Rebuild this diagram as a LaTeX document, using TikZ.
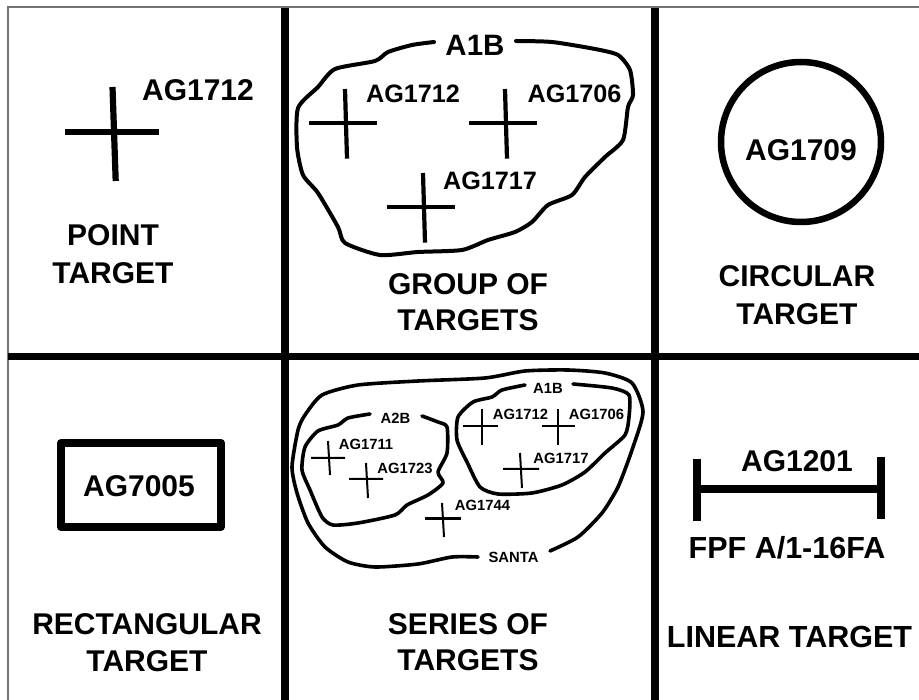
\documentclass[tikz,border=0pt]{standalone}
\usepackage{fontspec}
\setmainfont{Liberation Sans}
\newcommand{\fs}[1]{\fontsize{#1}{#1}\selectfont\bfseries}
\tikzset{
 lab/.style={inner sep=0pt,outer sep=0pt,align=center,font=\fs{30}},
 mid/.style={inner sep=0pt,outer sep=0pt,align=center,font=\fs{25.2}},
 tiny/.style={inner sep=0pt,outer sep=0pt,align=center,font=\fs{14.8}},
 grid/.style={line width=7.8pt},
 frame/.style={line width=1.5pt,black!55},
 blob/.style={line width=4pt,line cap=round,line join=round},
 sblob/.style={line width=3.6pt,line cap=round,line join=round},
 heavy/.style={line width=6.2pt},
 cross/.style={line width=4.2pt},
 thincross/.style={line width=2pt},
}
\begin{document}
\begin{tikzpicture}[x=1pt,y=-1pt]
\useasboundingbox (0,0) rectangle (919,700);
\fill[white] (0,0) rectangle (919,700);
\draw[frame] (8,700) -- (8,7) -- (919,7);
% grid
\draw[grid] (285,8) -- (285,700);
\draw[grid] (655,8) -- (655,700);
\draw[grid] (8,356.5) -- (919,356.5);
% point target
\draw[heavy] (65,132) -- (159,132);
\draw[heavy] (112.5,87) -- (115.7,181);
\node[lab] (p1) at (198,90.5) {AG1712};
\node[lab] (p2) at (113,254.5) {POINT\\[8pt]TARGET};
% group
\draw[blob] plot[smooth,tension=0.4] coordinates {(434,42)(412,45)(388,52)(375,61)(335,69)(318,87)(298,108)(297,147)(303,175)(318,193)(338,227)(345,243)(380,255)(418,252)(462,250)(488,240)(515,232)(532,222)(548,205)(572,195)(585,177)(605,157)(623,140)(628,107)(633,95)(630,70)(618,55)(595,49)(552,42)(516,41)};
\node[lab,font=\fs{29.5}] (g0) at (475,45) {A1B};
\foreach \x/\y in {0/0,160/0,78/84}{
 \draw[cross] (309+\x,122.8+\y) -- (377+\x,122.8+\y);
 \draw[cross] (345+\x,89+\y) -- (347+\x,158.7+\y);
}
\node[mid] (g1) at (413,94) {AG1712};
\node[mid] (g2) at (574.5,94) {AG1706};
\node[mid] (g3) at (490,180.5) {AG1717};
\node[lab] (g4) at (468,302) {GROUP OF\\[6pt]TARGETS};
% circular
\draw[line width=6.5pt] (801,142) circle (80);
\node[lab] (c1) at (801,150) {AG1709};
\node[lab] (c2) at (797,295.5) {CIRCULAR\\[8pt]TARGET};
% rect
\draw[line width=7.8pt,line join=round] (61,443) rectangle (221,527);
\node[lab] (r1) at (139,486.5) {AG7005};
\node[lab] (r2) at (147,642.5) {RECTANGULAR\\[7pt]TARGET};
% series
\draw[sblob] plot[smooth,tension=0.4] coordinates {(478,557)(452,557)(418,564)(375,567)(348,562)(325,547)(308,523)(297,493)(292,467)(298,430)(305,415)(322,395)(358,385)(418,381)(485,378)(525,371)(568,370)(605,373)(632,383)(643,412)(632,450)(618,487)(602,513)(578,537)(550,551)};
\draw[sblob] plot[smooth,tension=0.4] coordinates {(370,414)(348,418)(338,425)(318,431)(305,447)(302,470)(310,490)(322,517)(333,525)(358,523)(395,515)(407,505)(428,495)(443,483)(438,472)(447,453)(447,427)(438,422)(422,416)};
\draw[sblob] plot[smooth,tension=0.4] coordinates {(525,385)(502,390)(492,397)(473,402)(458,417)(457,440)(467,462)(480,487)(498,494)(532,493)(562,485)(585,472)(605,453)(625,435)(629,417)(629,395)(612,388)(573,384)};
\node[tiny] (s1) at (548,388) {A1B};
\node[tiny] (s2) at (395.5,418) {A2B};
\node[tiny] (s3) at (513.5,557) {SANTA};
\node[tiny] (s4) at (520.5,414) {AG1712};
\node[tiny] (s5) at (596.5,414) {AG1706};
\node[tiny] (s6) at (561,458) {AG1717};
\node[tiny] (s7) at (366,444) {AG1711};
\node[tiny] (s8) at (405,468) {AG1723};
\node[tiny] (s9) at (482.5,505.7) {AG1744};
\draw[thincross] (463,425.7) -- (498,425.7) (482,409) -- (482,445);
\draw[thincross] (542,425.7) -- (575,425.7) (558,409) -- (558,445);
\draw[thincross] (503,469) -- (539,469) (520,453) -- (522,488);
\draw[thincross] (311,458) -- (345,458) (328,441) -- (330,475);
\draw[thincross] (349,479) -- (383,479) (366,463) -- (368,498);
\draw[line width=3.6pt] (425,518.7) -- (461,518.7);
\draw[thincross] (442,503) -- (444,537);
\node[lab] (s10) at (468,642) {SERIES OF\\[6pt]TARGETS};
% linear
\draw[grid] (697,459) -- (697,521);
\draw[grid] (881,457) -- (881,519);
\draw[grid] (697,489) -- (881,489);
\node[lab] (l1) at (797,461) {AG1201};
\node[lab,font=\fs{30.5}] (l2) at (787,548) {FPF A/1-16FA};
\node[lab,font=\fs{30.5}] (l3) at (789.5,637) {LINEAR TARGET};
\end{tikzpicture}
\end{document}
